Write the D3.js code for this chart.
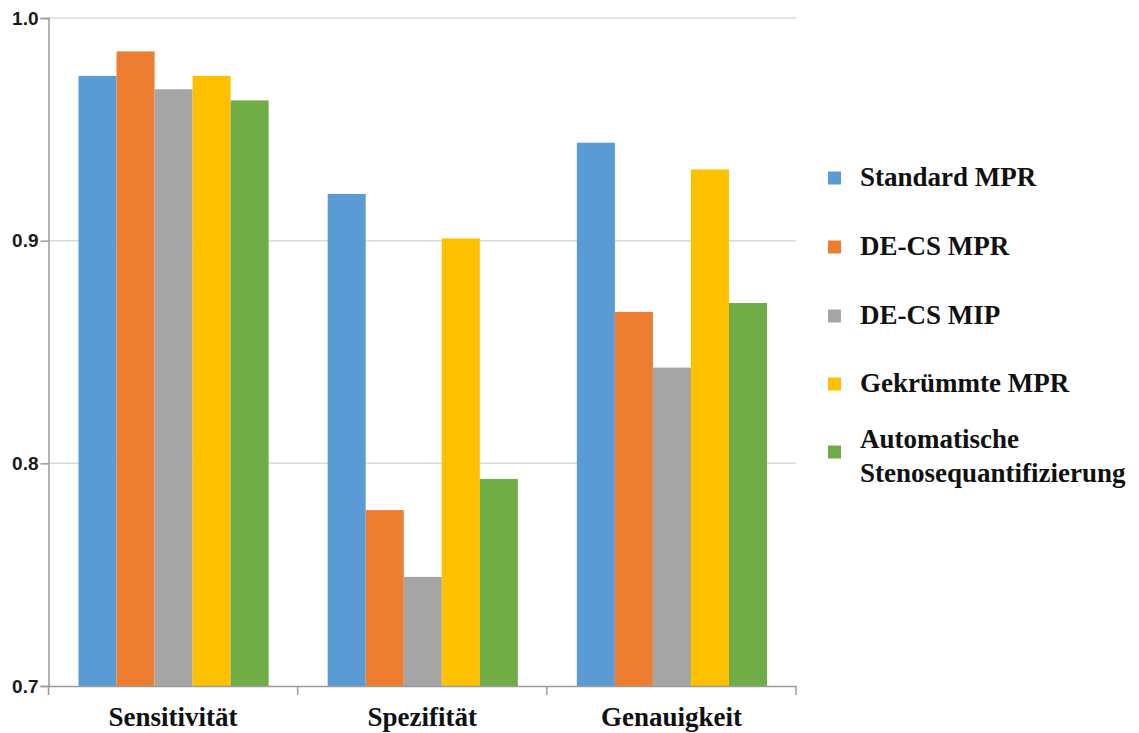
<!DOCTYPE html>
<html>
<head>
<meta charset="utf-8">
<script src="https://cdn.jsdelivr.net/npm/d3@7"></script>
<style>
  html, body { margin: 0; padding: 0; background: #ffffff; }
  svg { display: block; }
</style>
</head>
<body>
<svg id="chart" width="1139" height="733"></svg>
<script>
// Kategorien und Messreihen
const categories = ["Sensitivität", "Spezifität", "Genauigkeit"];
const seriesNames = ["Standard MPR", "DE-CS MPR", "DE-CS MIP", "Gekrümmte MPR", "Automatische Stenosequantifizierung"];
const legendLines = [["Standard MPR"], ["DE-CS MPR"], ["DE-CS MIP"], ["Gekrümmte MPR"], ["Automatische", "Stenosequantifizierung"]];
const seriesColors = ["#5B9BD5", "#ED7D31", "#A5A5A5", "#FFC000", "#70AD47"];

// Werte je Messreihe in der Reihenfolge der Kategorien
const standardMPR = [0.974, 0.921, 0.944];
const deCsMPR     = [0.985, 0.779, 0.868];
const deCsMIP     = [0.968, 0.749, 0.843];
const gekruemmt   = [0.974, 0.901, 0.932];
const automatisch = [0.963, 0.793, 0.872];
const seriesValues = [standardMPR, deCsMPR, deCsMIP, gekruemmt, automatisch];

const yTicks = [0.7, 0.8, 0.9, 1.0];

const svg = d3.select("#chart");
const plotLeft = 48.5, plotRight = 796, plotTop = 18, plotBottom = 686;

const x0 = d3.scaleBand().domain(categories).range([plotLeft, plotRight]).padding(0);
const bw = x0.bandwidth();
const x1 = d3.scaleBand().domain(seriesNames).range([30, bw - 29]).padding(0);
const y = d3.scaleLinear().domain([0.7, 1.0]).range([plotBottom, plotTop]);
const color = d3.scaleOrdinal().domain(seriesNames).range(seriesColors);

// Gitterlinien
svg.append("g")
  .selectAll("line")
  .data(yTicks.slice(1))
  .join("line")
  .attr("x1", plotLeft).attr("x2", plotRight)
  .attr("y1", d => y(d)).attr("y2", d => y(d))
  .attr("stroke", "#d9d9d9").attr("stroke-width", 1.5);

// Balken
const rows = categories.map((c, i) => ({
  cat: c,
  vals: seriesNames.map((s, j) => ({ s, v: seriesValues[j][i] }))
}));

svg.append("g")
  .selectAll("g")
  .data(rows)
  .join("g")
  .attr("transform", d => `translate(${x0(d.cat)},0)`)
  .selectAll("rect")
  .data(d => d.vals)
  .join("rect")
  .attr("x", d => x1(d.s))
  .attr("width", x1.bandwidth())
  .attr("y", d => y(d.v))
  .attr("height", d => y(0.7) - y(d.v))
  .attr("fill", d => color(d.s));

// y-Achse
const yAxis = svg.append("g")
  .attr("transform", `translate(${plotLeft},0)`)
  .call(d3.axisLeft(y).tickValues(yTicks).tickFormat(d3.format(".1f")).tickSize(8).tickPadding(2));
yAxis.select(".domain").attr("stroke", "#9a9a9a").attr("stroke-width", 1.5);
yAxis.selectAll(".tick line").attr("stroke", "#9a9a9a").attr("stroke-width", 1.5);
yAxis.selectAll(".tick text")
  .attr("fill", "#1a1a1a")
  .style("font-family", "'Liberation Sans', Arial, sans-serif")
  .style("font-weight", "bold")
  .style("font-size", "19px");

// x-Achse mit Trennstrichen zwischen den Kategorien
const xAxis = svg.append("g")
  .attr("transform", `translate(0,${plotBottom})`)
  .call(d3.axisBottom(x0).tickSize(0).tickPadding(21));
xAxis.select(".domain").attr("stroke", "#9a9a9a").attr("stroke-width", 1.5);
xAxis.selectAll(".tick text")
  .attr("fill", "#111")
  .style("font-family", "'Liberation Serif', 'Times New Roman', serif")
  .style("font-weight", "bold")
  .style("font-size", "27px");

const bounds = categories.map(c => x0(c)).concat([x0(categories[categories.length - 1]) + bw]);
xAxis.selectAll("line.sep")
  .data(bounds)
  .join("line")
  .attr("class", "sep")
  .attr("x1", d => d).attr("x2", d => d)
  .attr("y1", 0).attr("y2", 9)
  .attr("stroke", "#9a9a9a").attr("stroke-width", 1.5);

// Legende
const legendY = [178, 247, 316, 384, 452];
const legend = svg.append("g")
  .selectAll("g")
  .data(seriesNames)
  .join("g")
  .attr("transform", (d, i) => `translate(828,${legendY[i]})`);

legend.append("rect")
  .attr("x", 0).attr("y", -6.5)
  .attr("width", 13).attr("height", 13)
  .attr("fill", d => color(d));

legend.each(function(d, i) {
  const lines = legendLines[i];
  const t = d3.select(this).append("text")
    .attr("x", 32)
    .attr("fill", "#111")
    .style("font-family", "'Liberation Serif', 'Times New Roman', serif")
    .style("font-weight", "bold")
    .style("font-size", "27px");
  const first = lines.length === 1 ? 8 : -4;
  lines.forEach((ln, k) => {
    t.append("tspan").attr("x", 32).attr("y", first + k * 34).text(ln);
  });
});
</script>
</body>
</html>
